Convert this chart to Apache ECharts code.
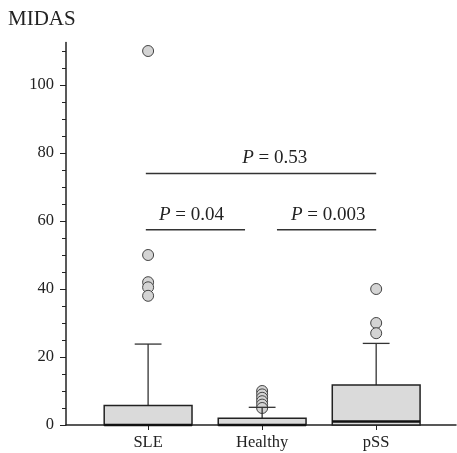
<!DOCTYPE html>
<html>
<head>
<meta charset="utf-8">
<script src="https://cdn.jsdelivr.net/npm/echarts@6/dist/echarts.min.js"></script>
<style>
html,body{margin:0;padding:0;background:#fff;}
#chart{width:457px;height:453px;}
</style>
</head>
<body>
<div id="chart"></div>
<script>
// ---- data ----
const categories = ['SLE', 'Healthy', 'pSS'];
const whiskerLow = [0, 0, 0];
const q1 = [0, 0, 0];
const median = [0, 0, 1];
const q3 = [5.7, 2, 11.8];
const whiskerHigh = [23.8, 5.2, 24];
const outliersSLE = [110, 50, 42, 40.5, 38];
const outliersHealthy = [10, 9, 8, 7, 6, 5];
const outliersPSS = [40, 30, 27];
const yTickLabels = [0, 20, 40, 60, 80, 100];
const yMinorTicks = [0,5,10,15,20,25,30,35,40,45,50,55,60,65,70,75,80,85,90,95,100,105,110];
const sigLabels = ['0.04', '0.003', '0.53'];
const sigFrom = [0.98, 2.13, 0.98];
const sigTo = [1.85, 3.0, 3.0];
const sigY = [57.4, 57.4, 74];
const sigTextX = [1.38, 2.58, 2.11];

// ---- build series data ----
const boxData = categories.map((c, i) => [i + 1, whiskerLow[i], q1[i], median[i], q3[i], whiskerHigh[i]]);
const outlierData = [];
[outliersSLE, outliersHealthy, outliersPSS].forEach((arr, i) => arr.forEach(v => outlierData.push([i + 1, v])));
const sigData = sigLabels.map((l, i) => [sigFrom[i], sigTo[i], sigY[i], sigTextX[i]]);

const FONT = '"Liberation Serif", "Times New Roman", serif';
const INK = '#222';
const BOX_W = 0.77;   // in x units
const CAP_W = 0.235;

const chart = echarts.init(document.getElementById('chart'), null, {renderer: 'canvas'});
chart.setOption({
  animation: false,
  backgroundColor: '#fff',
  title: {
    text: 'MIDAS', left: 3, top: 4,
    textStyle: {fontFamily: FONT, fontSize: 21, fontWeight: 'normal', color: INK}
  },
  grid: {left: 66, right: 1, top: 42.5, bottom: 28, containLabel: false},
  xAxis: {
    type: 'value', min: 0.28, max: 3.70,
    axisLine: {show: true, lineStyle: {color: INK, width: 1.5}},
    axisTick: {show: true, length: 5, customValues: [1, 2, 3], lineStyle: {color: INK, width: 1}},
    axisLabel: {
      customValues: [1, 2, 3], margin: 9,
      formatter: v => categories[Math.round(v) - 1] || '',
      fontFamily: FONT, fontSize: 16.5, color: INK
    },
    splitLine: {show: false}
  },
  yAxis: [{
    type: 'value', min: 0, max: 112.5, position: 'left',
    axisLine: {show: true, lineStyle: {color: INK, width: 1.5}},
    axisTick: {show: true, length: 6, customValues: yTickLabels, lineStyle: {color: INK, width: 1}},
    axisLabel: {customValues: yTickLabels, margin: 12, fontFamily: FONT, fontSize: 16.5, color: INK},
    splitLine: {show: false}
  }, {
    type: 'value', min: 0, max: 112.5, position: 'left', offset: 0,
    axisLine: {show: false},
    axisTick: {show: true, length: 4, customValues: yMinorTicks, lineStyle: {color: INK, width: 1}},
    axisLabel: {show: false},
    splitLine: {show: false}
  }],
  series: [{
    type: 'custom',
    z: 3,
    data: boxData,
    renderItem: function (params, api) {
      const x = api.value(0);
      const pLo = api.coord([x, api.value(1)]);
      const pQ1 = api.coord([x, api.value(2)]);
      const pMed = api.coord([x, api.value(3)]);
      const pQ3 = api.coord([x, api.value(4)]);
      const pHi = api.coord([x, api.value(5)]);
      const halfW = api.size([BOX_W, 0])[0] / 2;
      const capHalf = api.size([CAP_W, 0])[0] / 2;
      const lineStyle = {stroke: '#333', lineWidth: 1.3};
      const children = [
        {type: 'line', shape: {x1: pQ3[0], y1: pQ3[1], x2: pHi[0], y2: pHi[1]}, style: lineStyle},
        {type: 'line', shape: {x1: pHi[0] - capHalf, y1: pHi[1], x2: pHi[0] + capHalf, y2: pHi[1]}, style: lineStyle}
      ];
      if (api.value(1) < api.value(2)) {
        children.push({type: 'line', shape: {x1: pQ1[0], y1: pQ1[1], x2: pLo[0], y2: pLo[1]}, style: lineStyle});
        children.push({type: 'line', shape: {x1: pLo[0] - capHalf, y1: pLo[1], x2: pLo[0] + capHalf, y2: pLo[1]}, style: lineStyle});
      }
      children.push({
        type: 'rect',
        shape: {x: pQ3[0] - halfW, y: pQ3[1], width: 2 * halfW, height: pQ1[1] - pQ3[1]},
        style: {fill: '#dadada', stroke: INK, lineWidth: 1.5}
      });
      children.push({
        type: 'line',
        shape: {x1: pMed[0] - halfW, y1: pMed[1], x2: pMed[0] + halfW, y2: pMed[1]},
        style: {stroke: '#111', lineWidth: 2.5}
      });
      return {type: 'group', children: children};
    }
  }, {
    type: 'scatter',
    z: 2,
    data: outlierData,
    symbol: 'circle',
    symbolSize: 11,
    itemStyle: {color: '#d4d4d4', borderColor: '#444', borderWidth: 1, opacity: 1}
  }, {
    type: 'custom',
    z: 4,
    data: sigData,
    renderItem: function (params, api) {
      const p1 = api.coord([api.value(0), api.value(2)]);
      const p2 = api.coord([api.value(1), api.value(2)]);
      const pt = api.coord([api.value(3), api.value(2)]);
      return {type: 'group', children: [
        {type: 'line', shape: {x1: p1[0], y1: p1[1], x2: p2[0], y2: p2[1]}, style: {stroke: '#333', lineWidth: 1.5}},
        {type: 'text', x: pt[0], y: pt[1] - 15, style: {
          text: '{i|P} = ' + sigLabels[params.dataIndex],
          rich: {i: {fontStyle: 'italic', fontFamily: FONT, fontSize: 19, fill: INK}},
          fontFamily: FONT, fontSize: 19, fill: INK,
          align: 'center', verticalAlign: 'middle'
        }}
      ]};
    }
  }]
});
</script>
</body>
</html>
